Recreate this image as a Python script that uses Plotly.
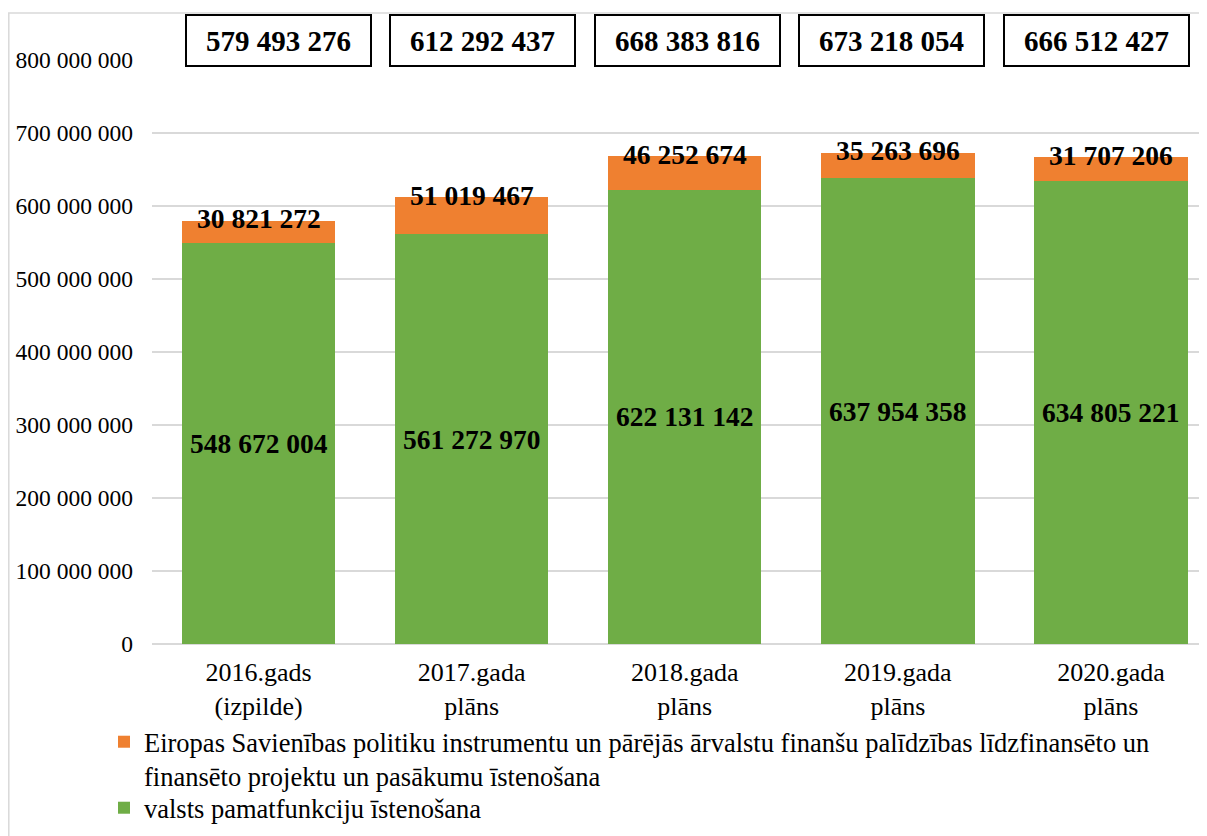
import plotly.graph_objects as go

categories = ["2016.gads<br>(izpilde)", "2017.gada<br>plāns", "2018.gada<br>plāns", "2019.gada<br>plāns", "2020.gada<br>plāns"]
valsts = [548672004, 561272970, 622131142, 637954358, 634805221]
es = [30821272, 51019467, 46252674, 35263696, 31707206]
totals = [579493276, 612292437, 668383816, 673218054, 666512427]
tick_vals = [0, 100000000, 200000000, 300000000, 400000000, 500000000, 600000000, 700000000, 800000000]

name_es = ("Eiropas Savienības politiku instrumentu un pārējās ārvalstu finanšu palīdzības līdzfinansēto un"
           "<br>finansēto projektu un pasākumu īstenošana")
name_valsts = "valsts pamatfunkciju īstenošana"

FONT = "Liberation Serif"
OFF = 8  # browser body margin
W, H = 1207 - OFF, 836 - OFF
L, T = 152 - OFF, 60 - OFF
PW, PH = W - L, 584
B = H - T - PH


def fmt(v):
    return f"{v:,}".replace(",", " ")


x = list(range(len(categories)))

fig = go.Figure()
fig.add_trace(go.Bar(x=x, y=valsts, name=name_valsts, marker=dict(color="#6FAD46", line=dict(width=0)),
                     width=0.72, hoverinfo="y", legend="legend2"))
fig.add_trace(go.Bar(x=x, y=es, name=name_es, marker=dict(color="#EF8030", line=dict(width=0)),
                     width=0.72, hoverinfo="y", legend="legend"))

annotations = []
for i in range(len(categories)):
    annotations.append(dict(x=i, y=valsts[i] / 2, text=f"<b>{fmt(valsts[i])}</b>", showarrow=False,
                            font=dict(family=FONT, size=27.5, color="black"), yanchor="middle"))
    annotations.append(dict(x=i, y=valsts[i] + es[i], text=f"<b>{fmt(es[i])}</b>", showarrow=False,
                            font=dict(family=FONT, size=27.5, color="black"), yanchor="middle", yshift=2))

box_c0, box_step = 278.5 - OFF, 204.4
box_cy = 40.5 - OFF
for i, tval in enumerate(totals):
    cx = box_c0 + i * box_step
    annotations.append(dict(xref="paper", yref="paper", x=(cx - L) / PW, y=1 + (T - box_cy) / PH,
                            text=f"<b>{fmt(tval)}</b>", showarrow=False, xanchor="center", yanchor="middle",
                            font=dict(family=FONT, size=29, color="black"),
                            bordercolor="black", borderwidth=2, bgcolor="white", width=181, height=47,
                            borderpad=1))

shapes = [dict(type="rect", xref="paper", yref="paper", x0=(0.8 - L) / PW, x1=1.2,
               y0=1 + (T - 5) / PH, y1=-0.6, line=dict(color="#D9D9D9", width=1.5), layer="below")]

legend_common = dict(xref="container", yref="container", xanchor="left", yanchor="top",
                     font=dict(family=FONT, size=26.5, color="black"), valign="top",
                     tracegroupgap=0, itemwidth=30, bgcolor="rgba(0,0,0,0)")

fig.update_layout(
    width=W, height=H,
    margin=dict(l=L, r=0, t=T, b=B, pad=0, autoexpand=False),
    barmode="stack",
    plot_bgcolor="white", paper_bgcolor="white",
    font=dict(family=FONT, color="black"),
    showlegend=True,
    legend=dict(x=96 / W, y=1 - 710 / H, **legend_common),
    legend2=dict(x=96 / W, y=1 - 776 / H, **legend_common),
    annotations=annotations,
    shapes=shapes,
    xaxis=dict(range=[-0.5, -0.5 + PW / 213.1], tickmode="array", tickvals=x, ticktext=categories,
               showgrid=False, showline=False, zeroline=False, ticks="", tickangle=0, automargin=False,
               tickfont=dict(family=FONT, size=26, color="black"), ticklabelstandoff=10),
    yaxis=dict(range=[0, 800000000], tickmode="array", tickvals=tick_vals, automargin=False,
               ticktext=[fmt(v) for v in tick_vals], showgrid=True, gridcolor="#D9D9D9", gridwidth=1.5,
               zeroline=True, zerolinecolor="#D9D9D9", zerolinewidth=1.5, showline=False, ticks="",
               tickfont=dict(family=FONT, size=23.5, color="black"), ticklabelstandoff=18),
)

fig.write_html("out.html")
